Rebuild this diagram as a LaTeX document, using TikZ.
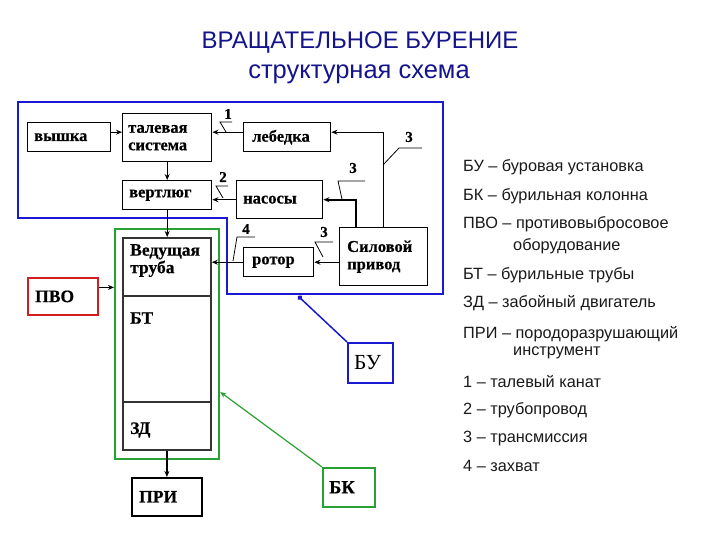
\documentclass[tikz,border=0pt]{standalone}
\usepackage{fontspec}
\setmainfont{Liberation Serif}
\newfontfamily\legsans{Liberation Sans}
\newfontfamily\heavy{Liberation Serif}[FakeBold=0.5]
\usetikzlibrary{arrows.meta,calc}
\definecolor{ttl}{RGB}{20,20,140}
\definecolor{frblue}{RGB}{25,25,210}
\definecolor{frgreen}{RGB}{40,160,50}
\definecolor{frred}{RGB}{210,30,30}
\begin{document}
\begin{tikzpicture}[x=1pt,y=-1pt,
  box/.style={draw, line width=1.4pt, anchor=north west, inner sep=0pt},
  colbox/.style={draw=black!80, line width=1.8pt, anchor=north west, inner sep=0pt, minimum width=88},
  lbl/.style={anchor=west, inner sep=0pt, align=left, font=\heavy\bfseries\fontsize{16.5}{16.5}\selectfont},
  biglbl/.style={lbl, font=\heavy\bfseries\fontsize{17.5}{17.5}\selectfont},
  conn/.style={line width=1.3pt, -{Stealth[length=6pt,width=5pt]}},
  leader/.style={line width=0.8pt},
  num/.style={inner sep=0pt, font=\heavy\bfseries\fontsize{15}{15}\selectfont},
  leg/.style={anchor=west, inner sep=0pt, font=\legsans\fontsize{16.3}{16.3}\selectfont, text=black!90},
]
\useasboundingbox (0,0) rectangle (720,540);

% title
\node[font=\legsans\fontsize{24}{24}\selectfont, text=ttl] (t1) at (360,43) {ВРАЩАТЕЛЬНОЕ БУРЕНИЕ};
\node[font=\legsans\fontsize{25.5}{25.5}\selectfont, text=ttl] (t2) at (359,74) {структурная схема};

% blue frame (БУ)
\draw[frblue, line width=2.2pt] (18,102) -- (443,102) -- (443,294) -- (227,294) -- (227,218) -- (18,218) -- cycle;
\coordinate (buend) at (298,296);

% green frame (БК)
\node[draw=frgreen, line width=2.2pt, anchor=north west, inner sep=0pt, minimum width=104, minimum height=230] (bkframe) at (114,228) {};

% boxes
\node[box, minimum width=83, minimum height=29] (vyshka) at (27,122) {};
\node[lbl] at ([xshift=7pt]vyshka.west) {вышка};
\node[box, minimum width=89, minimum height=48] (talev) at (122,113) {};
\node[lbl] at ([xshift=6pt]talev.west) {талевая\\[1pt]система};
\node[box, minimum width=89, minimum height=29] (vertl) at (122,180) {};
\node[lbl] at ([xshift=7pt]vertl.west) {вертлюг};
\node[box, minimum width=87, minimum height=29] (lebed) at (243,122) {};
\node[lbl] at ([xshift=9pt]lebed.west) {лебедка};
\node[box, minimum width=86, minimum height=38] (nasos) at (236,180) {};
\node[lbl] at ([xshift=7pt]nasos.west) {насосы};
\node[box, minimum width=70, minimum height=29] (rotor) at (243,247) {};
\node[lbl] at ([xshift=9pt]rotor.west) {ротор};
\node[box, minimum width=88, minimum height=58] (silov) at (339,227) {};
\node[lbl] at ([xshift=8pt]silov.west) {Силовой\\[1pt]привод};

% drill column
\node[colbox, minimum height=58] (ved) at (122,237) {};
\node[biglbl, anchor=north west] at ([xshift=8pt,yshift=-7pt]ved.north west) {Ведущая\\труба};
\node[colbox, minimum height=106] (bt) at (122,295) {};
\node[biglbl] at (130,318) {БТ};
\node[colbox, minimum height=48] (zd) at (122,401) {};
\node[biglbl] at (130,430) {ЗД};

% outer boxes
\node[draw=frred, line width=1.8pt, anchor=north west, inner sep=0pt, minimum width=70, minimum height=37] (pvo) at (27,277) {};
\node[biglbl] at ([xshift=8pt]pvo.west) {ПВО};
\node[box, line width=1.5pt, minimum width=70, minimum height=38] (pri) at (131,477) {};
\node[biglbl] at ([xshift=8pt]pri.west) {ПРИ};
\node[draw=frgreen, line width=1.5pt, anchor=north west, inner sep=0pt, minimum width=52, minimum height=39] (bk) at (322,467) {};
\node[biglbl, font=\heavy\bfseries\fontsize{18.5}{18.5}\selectfont] at ([xshift=7pt]bk.west) {БК};
\node[draw=frblue, line width=1.8pt, anchor=north west, inner sep=0pt, minimum width=45, minimum height=40] (bu) at (347,342) {};
\node[lbl, font=\fontsize{21.5}{21.5}\selectfont] at ([xshift=7pt]bu.west) {БУ};

% connectors
\draw[conn] ([yshift=5pt]vyshka.east) -- ([yshift=5pt]vyshka.east -| talev.west);
\draw[conn] ([yshift=5pt]lebed.west) -- ([yshift=5pt]lebed.west -| talev.east);
\draw[conn] (talev.south) -- (vertl.north);
\draw[conn] (vertl.south) -- (vertl.south |- ved.north);
\draw[conn] (nasos.west) -- (nasos.west -| vertl.east);
\draw[conn] (silov.north) |- ([yshift=5pt]lebed.east);
\draw[conn, line width=1.8pt] ([xshift=-28pt]silov.north) |- (nasos.east);
\draw[conn] (silov.west |- rotor.east) -- (rotor.east);
\draw[conn] (rotor.west) -- (rotor.west -| ved.east);
\draw[conn] ([yshift=9pt]pvo.east) -- ([yshift=9pt]pvo.east -| bkframe.west);
\draw[conn] (zd.south) -- (zd.south |- pri.north);
\draw[frblue, line width=1.5pt, -{Circle[length=5pt]}] (bu.north west) -- (buend);
\draw[frgreen, line width=1.2pt, -{Stealth[length=6pt,width=5pt]}] (bk.north west) -- (bkframe.east |- 0,392);

% leaders with numbers
\draw[leader] (232,122) -- (220,122) -- (226,132);
\node[num] at (228,114) {1};
\draw[leader] (228,186) -- (216,186) -- (223,198);
\node[num] at (223,177) {2};
\draw[leader] (383,165) -- (399,148) -- (422,148);
\node[num] at (409,137) {3};
\draw[leader] (365,181) -- (338,181) -- (342,199);
\node[num] at (353,168) {3};
\draw[leader] (333,242) -- (315,242) -- (323,257);
\node[num] at (324,232) {3};
\draw[leader] (255,237) -- (237,237) -- (233,261);
\node[num] at (246,229) {4};

% legend
\node[leg] at (463,167) {БУ – буровая установка};
\node[leg] at (463,196) {БК – бурильная колонна};
\node[leg] at (463,224) {ПВО – противовыбросовое};
\node[leg] at (513,246) {оборудование};
\node[leg] at (463,275) {БТ – бурильные трубы};
\node[leg] at (463,303) {ЗД – забойный двигатель};
\node[leg] at (463,334) {ПРИ – породоразрушающий};
\node[leg] at (513,353) {инструмент};
\node[leg] at (463,382) {1 – талевый канат};
\node[leg] at (463,410) {2 – трубопровод};
\node[leg] at (463,438) {3 – трансмиссия};
\node[leg] at (463,466) {4 – захват};
\end{tikzpicture}
\end{document}
